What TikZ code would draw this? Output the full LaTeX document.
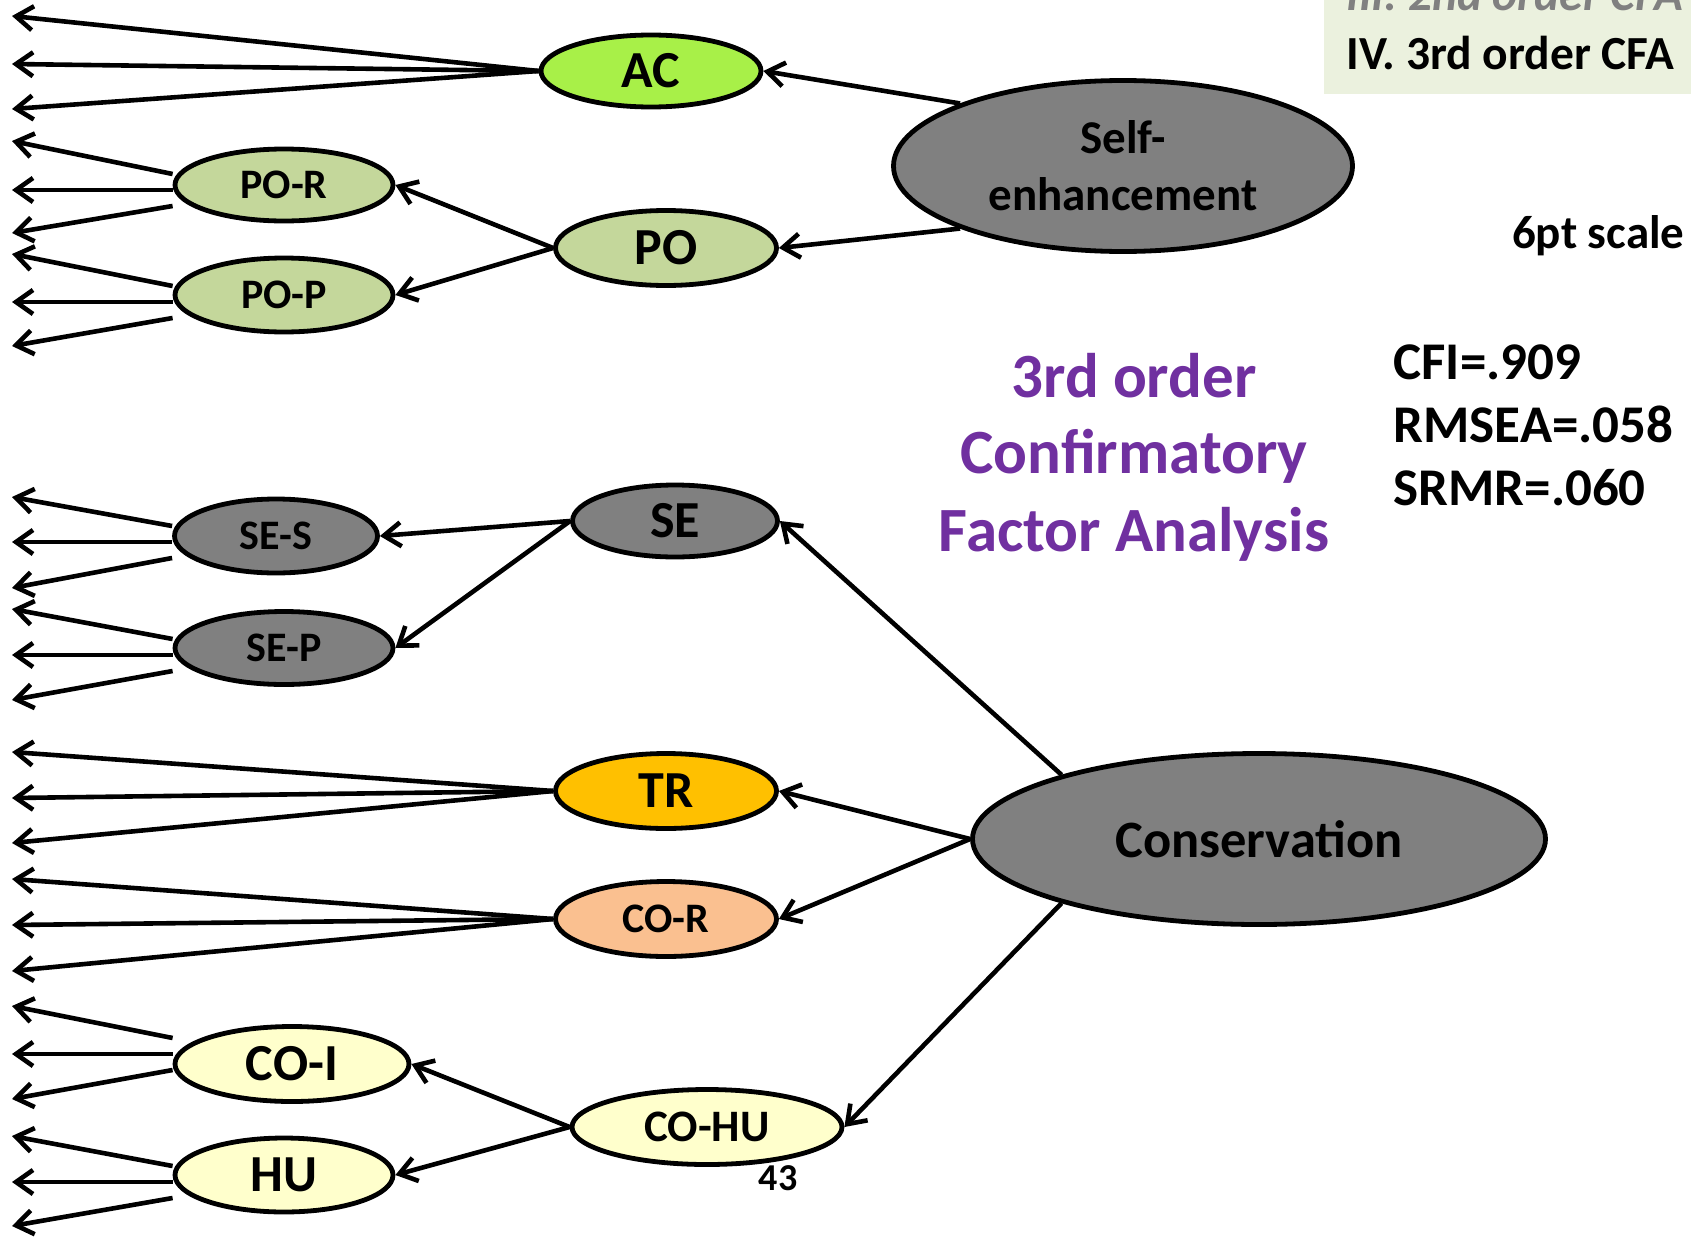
\documentclass[tikz,border=0pt]{standalone}
\usepackage{fontspec}
\setmainfont{Carlito}
\usetikzlibrary{arrows.meta}
\usetikzlibrary{shapes.geometric}

\definecolor{acgreen}{RGB}{168,240,72}
\definecolor{olive}{RGB}{196,215,155}
\definecolor{factorgray}{RGB}{128,128,128}
\definecolor{gold}{RGB}{255,192,0}
\definecolor{peach}{RGB}{250,192,144}
\definecolor{paleyellow}{RGB}{255,255,204}
\definecolor{titlepurple}{RGB}{112,48,160}
\definecolor{boxbg}{RGB}{235,241,222}

\begin{document}
\begin{tikzpicture}
 [ x=1pt, y=-1pt
 , latent/.style={ellipse, draw, line width=4.8pt, inner sep=0pt}
 , big/.style={font=\fontsize{52}{60}\selectfont\bfseries}
 , small/.style={font=\fontsize{42}{50}\selectfont\bfseries}
 , loading/.style={line width=4.6pt, -{Straight Barb[length=17pt,width=24pt]}}
 , indicator/.style={loading}
 , title/.style={anchor=base, text=titlepurple, font=\fontsize{63}{75}\selectfont\bfseries}
 , fit index/.style={anchor=base west, font=\fontsize{53}{64}\selectfont\bfseries}
 , box text/.style={anchor=base west, font=\fontsize{47.5}{56}\selectfont\bfseries}
 ]
  \path[use as bounding box, clip] (0,0) rectangle (1691,1239);

  % top right banner
  \fill[boxbg] (1324,0) rectangle (1691,94);
  \node[box text, text=factorgray, font=\fontsize{47.5}{56}\selectfont\bfseries\itshape] (prev) at (1343,11) {III. 2nd order CFA};
  \node[box text] (curr) at (1343,70) {IV. 3rd order CFA};

  % higher order factors
  \node[latent, fill=factorgray, minimum width=459pt, minimum height=171pt, align=center,
        font=\fontsize{47}{57}\selectfont\bfseries] (selfenh) at (1123,166) {Self-\\enhancement};
  \node[latent, fill=factorgray, minimum width=573pt, minimum height=171pt,
        font=\fontsize{52.5}{60}\selectfont\bfseries] (cons) at (1259,839) {Conservation};

  % values
  \node[latent, big, fill=acgreen, minimum width=220pt, minimum height=72pt] (ac) at (651,71) {AC};
  \node[latent, big, fill=olive, minimum width=221pt, minimum height=75pt] (po) at (666,248) {PO};
  \node[latent, small, fill=olive, minimum width=218pt, minimum height=72pt] (por) at (284,185) {PO-R};
  \node[latent, small, fill=olive, minimum width=218pt, minimum height=74pt] (pop) at (284,295) {PO-P};
  \node[latent, big, fill=factorgray, minimum width=205pt, minimum height=72pt] (se) at (675,521) {SE};
  \node[latent, small, fill=factorgray, minimum width=203pt, minimum height=74pt] (ses) at (276,536) {SE-S};
  \node[latent, small, fill=factorgray, minimum width=218pt, minimum height=73pt] (sep) at (284,648) {SE-P};
  \node[latent, big, fill=gold, minimum width=221pt, minimum height=75pt] (tr) at (666,791) {TR};
  \node[latent, small, fill=peach, minimum width=221pt, minimum height=75pt] (cor) at (666,919) {CO-R};
  \node[latent, fill=paleyellow, minimum width=270pt, minimum height=75pt,
        font=\fontsize{45}{54}\selectfont\bfseries] (cohu) at (707,1127) {CO-HU};
  \node[latent, big, fill=paleyellow, minimum width=234pt, minimum height=75pt] (coi) at (292,1064) {CO-I};
  \node[latent, big, fill=paleyellow, minimum width=218pt, minimum height=74pt] (hu) at (284,1175) {HU};

  % loadings between factors
  \draw[loading] (selfenh.159) -- (ac.east);
  \draw[loading] (selfenh.201) -- (po.east);
  \draw[loading] (po.west) -- (por.east);
  \draw[loading] (po.west) -- (pop.east);
  \draw[loading] (cons.162) -- (se.east);
  \draw[loading] (se.west) -- (ses.east);
  \draw[loading] (se.west) -- (sep.east);
  \draw[loading] (cons.west) -- (tr.east);
  \draw[loading] (cons.west) -- (cor.east);
  \draw[loading] (cons.198) -- (cohu.east);
  \draw[loading] (cohu.west) -- (coi.east);
  \draw[loading] (cohu.west) -- (hu.east);

  % items
  \foreach \n/\ta/\tb/\tc in {ac/16/64/109, tr/752/798/843, cor/879/925/971}
  {
    \coordinate (\n-1) at (12,\ta);
    \coordinate (\n-2) at (12,\tb);
    \coordinate (\n-3) at (12,\tc);
    \draw[indicator] (\n.west) -- (\n-1);
    \draw[indicator] (\n.west) -- (\n-2);
    \draw[indicator] (\n.west) -- (\n-3);
  }
  \foreach \n/\m/\ta/\tb/\tc in {por/5/141/190/233, pop/7/254/302/346, ses/6/497/542/588,
                                 sep/7/609/655/700, coi/-10/1006/1054/1099, hu/7/1136/1182/1226}
  {
    \coordinate (\n-1) at (12,\ta);
    \coordinate (\n-2) at (12,\tb);
    \coordinate (\n-3) at (12,\tc);
    \draw[indicator] ([shift={(0,\m-16)}]\n.west) -- (\n-1);
    \draw[indicator] ([shift={(0,\m)}]\n.west) -- (\n-2);
    \draw[indicator] ([shift={(0,\m+16)}]\n.west) -- (\n-3);
  }

  % texts
  \node[title] (title1) at (1134,397) {3rd order};
  \node[title] (title2) at (1134,473) {Confirmatory};
  \node[title] (title3) at (1134,551) {Factor Analysis};
  \node[fit index] (cfi) at (1390,379) {CFI=.909};
  \node[fit index] (rmsea) at (1390,442) {RMSEA=.058};
  \node[fit index] (srmr) at (1390,505) {SRMR=.060};
  \node[anchor=base east, font=\fontsize{47}{56}\selectfont\bfseries] (scale) at (1688,248) {6pt scale};
  \node[anchor=base, font=\fontsize{38}{44}\selectfont\bfseries] (page) at (778,1190) {43};
\end{tikzpicture}
\end{document}
